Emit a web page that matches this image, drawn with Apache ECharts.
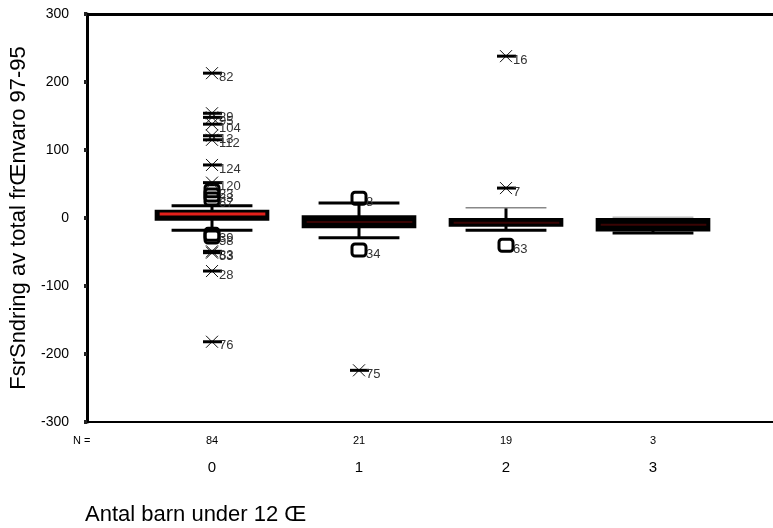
<!DOCTYPE html>
<html>
<head>
<meta charset="utf-8">
<script src="https://cdn.jsdelivr.net/npm/echarts@6/dist/echarts.min.js"></script>
<style>
    html, body { margin: 0; padding: 0; background: #fff; }
    #chart { width: 773px; height: 528px; }
</style>
</head>
<body>
<div id="chart"></div>
<script>
// groups
const categories = ['0', '1', '2', '3'];
const nCounts = ['84', '21', '19', '3'];

// box statistics per group
const boxMin = [-18, -29, -18, -22];
const boxQ1 = [-4, -15, -13, -20];
const boxMedian = [6, -6, -7, -10];
const boxQ3 = [12, 4, 0, 0];
const boxMax = [18, 22, 15, 1];

// extremes (asterisks)
const extremeGroup = [0, 0, 0, 0, 0, 0, 0, 0, 0, 0, 0, 0, 1, 2, 2];
const extremeValue = [213, 154, 148, 138, 121, 115, 78, 52, -49, -51, -78, -182, -224, 238, 44];
const extremeLabel = ['82', '29', '95', '104', '13', '112', '124', '120', '83', '53', '28', '76', '75', '16', '7'];

// outliers (squares)
const outlierGroup = [0, 0, 0, 0, 0, 1, 1, 2];
const outlierValue = [40, 34, 28, -24, -28, 29, -47, -40];
const outlierLabel = ['23', '33', '67', '39', '58', '8', '34', '63'];

const yTicks = [-300, -200, -100, 0, 100, 200, 300];

(function () {
    const FONT = 'Liberation Sans, Arial, sans-serif';
    const medianColors = ['#e3201b', '#3a0404', '#3a0404', '#3a0404'];
    const capTopColors = ['#000', '#000', '#888', '#bbb'];
    const capTopWidths = [3, 3, 1.5, 1.5];

    const myChart = echarts.init(document.getElementById('chart'));

    function renderBox(params, api) {
        const i = api.value(0);
        const band = api.size([1, 0])[0];
        const halfBox = band * 0.39;
        const halfCap = band * 0.275;
        const x = api.coord([i, 0])[0];
        const yMin = api.coord([i, api.value(1)])[1];
        const yQ1 = api.coord([i, api.value(2)])[1];
        const yMed = api.coord([i, api.value(3)])[1];
        const yQ3 = api.coord([i, api.value(4)])[1];
        const yMax = api.coord([i, api.value(5)])[1];
        return {
            type: 'group',
            children: [
                { type: 'line', shape: { x1: x, y1: yMin, x2: x, y2: yMax }, style: { stroke: '#000', lineWidth: 3 } },
                { type: 'line', shape: { x1: x - halfCap, y1: yMax, x2: x + halfCap, y2: yMax }, style: { stroke: capTopColors[i], lineWidth: capTopWidths[i] } },
                { type: 'line', shape: { x1: x - halfCap, y1: yMin, x2: x + halfCap, y2: yMin }, style: { stroke: '#000', lineWidth: 3 } },
                { type: 'rect', shape: { x: x - halfBox, y: yQ3, width: halfBox * 2, height: yQ1 - yQ3 }, style: { fill: '#000' } },
                { type: 'line', shape: { x1: x - halfBox + 5, y1: yMed, x2: x + halfBox - 4, y2: yMed }, style: { stroke: medianColors[i], lineWidth: i === 0 ? 3 : 2 } }
            ]
        };
    }

    function pointLabel(text, x, y) {
        return {
            type: 'text', x: x + 7, y: y + 4,
            style: { text: text, fill: '#333', fontSize: 13, fontFamily: FONT, align: 'left', verticalAlign: 'middle', textAlign: 'left', textVerticalAlign: 'middle' }
        };
    }

    function renderStar(params, api) {
        const p = api.coord([api.value(0), api.value(1)]);
        const x = p[0], y = p[1];
        return {
            type: 'group',
            children: [
                { type: 'line', shape: { x1: x - 6, y1: y - 6, x2: x + 6, y2: y + 6 }, style: { stroke: '#111', lineWidth: 1 } },
                { type: 'line', shape: { x1: x - 6, y1: y + 6, x2: x + 6, y2: y - 6 }, style: { stroke: '#111', lineWidth: 1 } },
                { type: 'line', shape: { x1: x - 9, y1: y, x2: x + 10, y2: y }, style: { stroke: '#000', lineWidth: 3 } },
                pointLabel(extremeLabel[params.dataIndex], x, y)
            ]
        };
    }

    function renderSquare(params, api) {
        const p = api.coord([api.value(0), api.value(1)]);
        const x = p[0], y = p[1];
        return {
            type: 'group',
            children: [
                { type: 'rect', shape: { x: x - 7, y: y - 6, width: 14, height: 12, r: 3 }, style: { fill: 'none', stroke: '#000', lineWidth: 3 } },
                pointLabel(outlierLabel[params.dataIndex], x, y)
            ]
        };
    }

    const option = {
        animation: false,
        backgroundColor: '#fff',
        textStyle: { fontFamily: FONT },
        grid: [
            { left: 87, right: -30, top: 14, bottom: 106 },
            { left: 138.5, width: 588, top: 14, bottom: 106 }
        ],
        xAxis: [
            {
                gridIndex: 0, type: 'value', position: 'bottom', min: 0, max: 1,
                axisLine: { onZero: false, lineStyle: { color: '#000', width: 2 } },
                axisTick: { show: false }, axisLabel: { show: false }, splitLine: { show: false }
            },
            {
                gridIndex: 0, type: 'value', position: 'top', min: 0, max: 1,
                axisLine: { onZero: false, lineStyle: { color: '#000', width: 3 } },
                axisTick: { show: false }, axisLabel: { show: false }, splitLine: { show: false }
            },
            {
                gridIndex: 1, type: 'category', position: 'bottom', data: categories,
                axisLine: { show: false, onZero: false },
                axisTick: { alignWithLabel: true, length: 3, lineStyle: { color: '#222', width: 6 } },
                axisLabel: { margin: 38, fontSize: 15, color: '#000' }
            },
            {
                gridIndex: 1, type: 'category', position: 'bottom', data: nCounts,
                axisLine: { show: false, onZero: false }, axisTick: { show: false },
                axisLabel: { margin: 13, fontSize: 11, color: '#000' }
            }
        ],
        yAxis: [
            {
                gridIndex: 0, type: 'value', min: -300, max: 300, interval: 100,
                axisLine: { show: true, onZero: false, lineStyle: { color: '#000', width: 3 } },
                axisTick: { show: true, length: 3, lineStyle: { color: '#222', width: 4 } },
                axisLabel: {
                    margin: 18, fontSize: 14, color: '#000',
                    formatter: function (v) { return yTicks.indexOf(v) >= 0 ? String(v) : ''; }
                },
                splitLine: { show: false },
                name: 'FsrSndring av total frŒnvaro 97-95',
                nameLocation: 'middle', nameGap: 46,
                nameTextStyle: { fontSize: 22, color: '#000' }
            },
            { gridIndex: 1, type: 'value', min: -300, max: 300, show: false }
        ],
        graphic: [
            { type: 'text', left: 73, top: 435, style: { text: 'N =', fontSize: 11, fontFamily: FONT, fill: '#000' } },
            { type: 'text', left: 85, top: 504, style: { text: 'Antal barn under 12 Œ', fontSize: 22, fontFamily: FONT, fill: '#000' } }
        ],
        series: [
            {
                type: 'custom', xAxisIndex: 2, yAxisIndex: 1,
                renderItem: renderBox,
                encode: { x: 0, y: [1, 2, 3, 4, 5] },
                data: categories.map((c, i) => [i, boxMin[i], boxQ1[i], boxMedian[i], boxQ3[i], boxMax[i]]),
                z: 2
            },
            {
                type: 'custom', xAxisIndex: 2, yAxisIndex: 1,
                renderItem: renderSquare,
                encode: { x: 0, y: 1 },
                data: outlierValue.map((v, i) => [outlierGroup[i], v]),
                z: 3
            },
            {
                type: 'custom', xAxisIndex: 2, yAxisIndex: 1,
                renderItem: renderStar,
                encode: { x: 0, y: 1 },
                data: extremeValue.map((v, i) => [extremeGroup[i], v]),
                z: 4
            }
        ]
    };

    myChart.setOption(option);

    window.addEventListener('resize', function () {
        myChart.resize();
    });
})();
</script>
</body>
</html>
